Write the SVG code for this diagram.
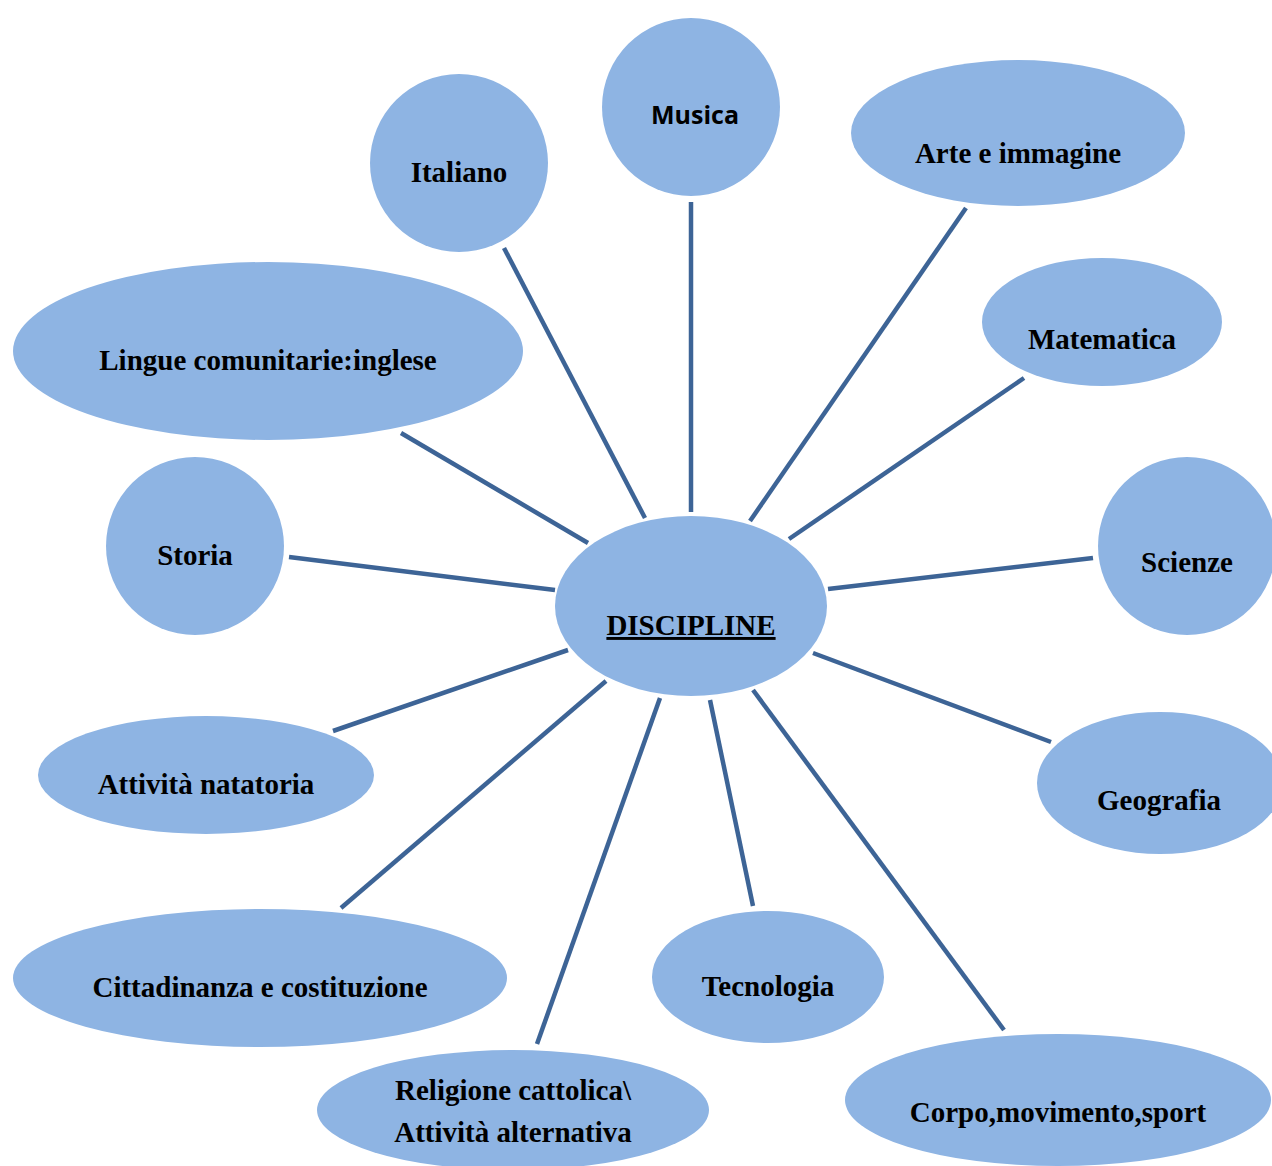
<svg xmlns="http://www.w3.org/2000/svg" width="1272" height="1166" viewBox="0 0 1272 1166">
<style>
.n{fill:#8EB4E3;}
.t{font-family:"Liberation Serif","Times New Roman",serif;font-weight:bold;font-size:29px;fill:#000;text-anchor:middle;}
.s{font-family:"Open Sans","Liberation Sans",sans-serif;font-weight:bold;font-size:25px;fill:#000;text-anchor:middle;}
#edges line{stroke:#3D6496;stroke-width:4.5;stroke-linecap:butt;}
</style>
<rect width="1272" height="1166" fill="#fff"/>
<g id="edges">
<line x1="504" y1="248" x2="645" y2="518"/>
<line x1="691" y1="202" x2="691" y2="512"/>
<line x1="966" y1="208" x2="750" y2="521"/>
<line x1="1024" y1="378" x2="789" y2="539"/>
<line x1="401" y1="433" x2="588" y2="543"/>
<line x1="289" y1="557" x2="555" y2="590"/>
<line x1="1093" y1="558" x2="828" y2="589"/>
<line x1="333" y1="731" x2="568" y2="650"/>
<line x1="1051" y1="742" x2="813" y2="653"/>
<line x1="341" y1="908" x2="606" y2="681"/>
<line x1="537" y1="1044" x2="660" y2="698"/>
<line x1="753" y1="906" x2="710" y2="700"/>
<line x1="1004" y1="1030" x2="753" y2="690"/>
</g>
<g id="musica"><circle class="n" cx="691" cy="107" r="89"/><text class="s" x="695" y="124">Musica</text></g>
<g id="italiano"><circle class="n" cx="459" cy="163" r="89"/><text class="t" x="459" y="182">Italiano</text></g>
<g id="arte"><ellipse class="n" cx="1018" cy="133" rx="167" ry="73"/><text class="t" x="1018" y="163">Arte e immagine</text></g>
<g id="matematica"><ellipse class="n" cx="1102" cy="322" rx="120" ry="64"/><text class="t" x="1102" y="349">Matematica</text></g>
<g id="lingue"><ellipse class="n" cx="268" cy="351" rx="255" ry="89"/><text class="t" x="268" y="370">Lingue comunitarie:inglese</text></g>
<g id="storia"><circle class="n" cx="195" cy="546" r="89"/><text class="t" x="195" y="565">Storia</text></g>
<g id="scienze"><circle class="n" cx="1187" cy="546" r="89"/><text class="t" x="1187" y="572">Scienze</text></g>
<g id="discipline"><ellipse class="n" cx="691" cy="606" rx="136" ry="90"/><text class="t" x="691" y="635" text-decoration="underline">DISCIPLINE</text></g>
<g id="natatoria"><ellipse class="n" cx="206" cy="775" rx="168" ry="59"/><text class="t" x="206" y="794">Attività natatoria</text></g>
<g id="geografia"><ellipse class="n" cx="1160" cy="783" rx="123" ry="71"/><text class="t" x="1159" y="810">Geografia</text></g>
<g id="cittadinanza"><ellipse class="n" cx="260" cy="978" rx="247" ry="69"/><text class="t" x="260" y="997">Cittadinanza e costituzione</text></g>
<g id="tecnologia"><ellipse class="n" cx="768" cy="977" rx="116" ry="66"/><text class="t" x="768" y="996">Tecnologia</text></g>
<g id="religione"><ellipse class="n" cx="513" cy="1110" rx="196" ry="60"/><text class="t" x="513" y="1100">Religione cattolica\</text><text class="t" x="513" y="1142">Attività alternativa</text></g>
<g id="corpo"><ellipse class="n" cx="1058" cy="1100" rx="213" ry="66"/><text class="t" x="1058" y="1122">Corpo,movimento,sport</text></g>
</svg>
